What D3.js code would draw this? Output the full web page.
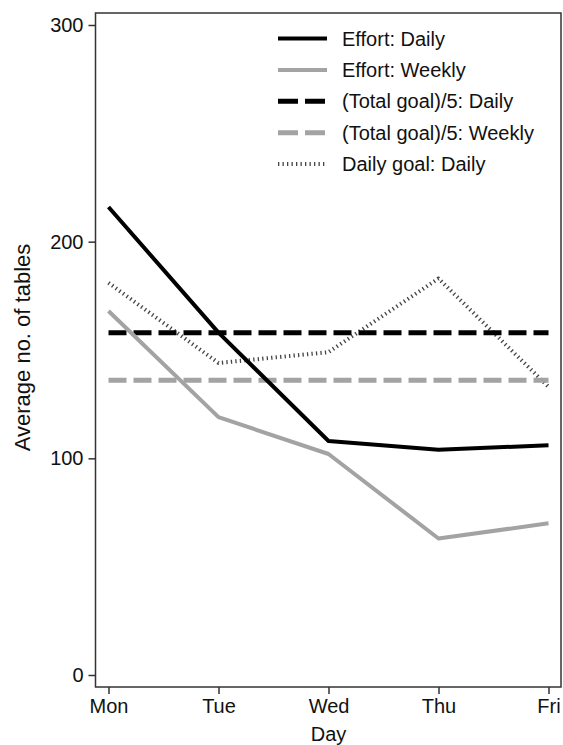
<!DOCTYPE html>
<html>
<head>
    <title>Average no. of tables</title>
</head>
<body style="margin:0;background:#fff;">
<style type="text/css">
    #renderer {
        width: 563px;
        height: 745px;
        background: #fff;
        display: block;
    }
    text { font-family: Arial, "Liberation Sans", sans-serif; fill: #111; }
</style>
<script type="text/javascript" src="https://cdnjs.cloudflare.com/ajax/libs/d3/7.8.5/d3.min.js"></script>
<svg id='renderer'></svg>

<script type="text/javascript">
    // data
    var days = ['Mon', 'Tue', 'Wed', 'Thu', 'Fri'];
    var yTicks = [0, 100, 200, 300];

    var effortDaily = [216, 158, 108, 104, 106];
    var effortWeekly = [168, 119, 102, 63, 70];
    var totalGoalDaily = [158, 158, 158, 158, 158];
    var totalGoalWeekly = [136, 136, 136, 136, 136];
    var dailyGoalDaily = [181, 144, 149, 183, 133];

    var seriesNames = ['Effort: Daily', 'Effort: Weekly', '(Total goal)/5: Daily',
        '(Total goal)/5: Weekly', 'Daily goal: Daily'];

    var root = d3.select('#renderer');

    // frame
    var frame = { left: 95.5, right: 561, top: 13, bottom: 687 };

    var x = d3.scalePoint().domain(days).range([108.5, 548.5]);
    var y = d3.scaleLinear().domain([0, 300]).range([675, 25]);

    // series styles
    var styles = [
        { data: effortDaily, color: '#000', width: 4, dash: null },
        { data: effortWeekly, color: '#a3a3a3', width: 4, dash: null },
        { data: totalGoalDaily, color: '#000', width: 5, dash: '18,7' },
        { data: totalGoalWeekly, color: '#a3a3a3', width: 5, dash: '18,7' },
        { data: dailyGoalDaily, color: '#444', width: 4, dash: '1.3,3.2' }
    ];

    var line = d3.line()
        .x(function (d, i) { return x(days[i]); })
        .y(function (d) { return y(d); });

    // draw series (back to front)
    var drawOrder = [4, 3, 2, 1, 0];
    drawOrder.forEach(function (k) {
        var s = styles[k];
        root.append('path')
            .datum(s.data)
            .attr('d', line)
            .attr('fill', 'none')
            .attr('stroke', s.color)
            .attr('stroke-width', s.width)
            .attr('stroke-dasharray', s.dash)
            .attr('stroke-linejoin', 'round');
    });

    // frame
    root.append('rect')
        .attr('x', frame.left)
        .attr('y', frame.top)
        .attr('width', frame.right - frame.left)
        .attr('height', frame.bottom - frame.top)
        .attr('fill', 'none')
        .attr('stroke', '#333')
        .attr('stroke-width', 1.5);

    // y axis
    var yAxis = d3.axisLeft(y).tickValues(yTicks).tickSize(7).tickPadding(5);
    var gy = root.append('g')
        .attr('transform', 'translate(' + frame.left + ',0)')
        .call(yAxis);
    gy.select('.domain').remove();
    gy.selectAll('line').attr('stroke', '#333').attr('stroke-width', 1.5);
    gy.selectAll('text').attr('font-size', 20).attr('fill', '#111')
        .attr('font-family', 'Arial, "Liberation Sans", sans-serif');

    // x axis
    var xAxis = d3.axisBottom(x).tickSize(7).tickPadding(5);
    var gx = root.append('g')
        .attr('transform', 'translate(0,' + frame.bottom + ')')
        .call(xAxis);
    gx.select('.domain').remove();
    gx.selectAll('line').attr('stroke', '#333').attr('stroke-width', 1.5);
    gx.selectAll('text').attr('font-size', 20).attr('fill', '#111')
        .attr('font-family', 'Arial, "Liberation Sans", sans-serif');

    // axis titles
    root.append('text')
        .attr('x', (x('Mon') + x('Fri')) / 2)
        .attr('y', 741)
        .attr('text-anchor', 'middle')
        .attr('font-size', 20)
        .text('Day');

    root.append('text')
        .attr('transform', 'translate(29.5,347.5) rotate(-90)')
        .attr('text-anchor', 'middle')
        .attr('font-size', 22)
        .text('Average no. of tables');

    // legend
    var legend = root.append('g');
    seriesNames.forEach(function (name, i) {
        var ly = 38.5 + i * 31.4;
        var s = styles[i];
        legend.append('line')
            .attr('x1', 278).attr('x2', 327)
            .attr('y1', ly).attr('y2', ly)
            .attr('stroke', s.color)
            .attr('stroke-width', s.width)
            .attr('stroke-dasharray', s.dash ? (i === 4 ? s.dash : '20,7') : null);
        legend.append('text')
            .attr('x', 342)
            .attr('y', ly + 7)
            .attr('font-size', 20)
            .text(name);
    });
</script>
</body>
</html>
